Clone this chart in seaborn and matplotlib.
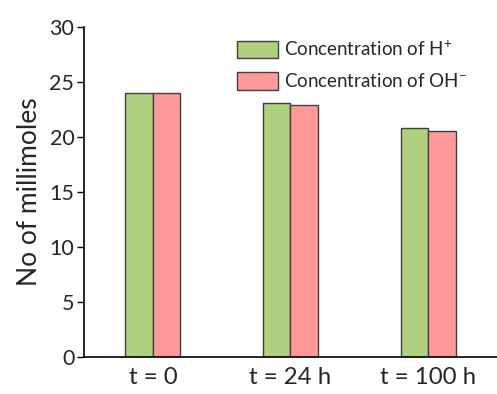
import matplotlib
matplotlib.use("Agg")
import matplotlib.pyplot as plt
import seaborn as sns
import pandas as pd

# Data
times = ["t = 0", "t = 24 h", "t = 100 h"]
h_conc = [24.0, 23.05, 20.8]
oh_conc = [24.0, 22.95, 20.5]
series_names = ["Concentration of H$^{+}$", "Concentration of OH$^{-}$"]
colors = ["#AFD07F", "#FF9999"]

df = pd.DataFrame({
    "time": times * 2,
    "value": h_conc + oh_conc,
    "series": [series_names[0]] * len(times) + [series_names[1]] * len(times),
})

sns.set_theme(style="white")
plt.rcParams["font.family"] = ["Lato", "DejaVu Sans"]
plt.rcParams["mathtext.fontset"] = "custom"
plt.rcParams["mathtext.rm"] = "Lato"
plt.rcParams["mathtext.it"] = "Lato:italic"

fig = plt.figure(figsize=(4.97, 3.94), dpi=100)
ax = fig.add_axes([0.169, 0.094, 0.831, 0.8376])

sns.barplot(data=df, x="time", y="value", hue="series", palette=colors,
            width=0.4, edgecolor="#404040", linewidth=1.0, ax=ax,
            saturation=1)

ax.set_xlim(-0.5, 2.5)
ax.set_ylim(0, 30)
ax.set_yticks(range(0, 31, 5))
ax.set_xlabel("")
ax.set_ylabel("No of millimoles", fontsize=19, labelpad=5)
ax.tick_params(axis="y", which="both", direction="out", length=5, width=1,
               color="black", labelsize=15.5, left=True, pad=2)
ax.tick_params(axis="x", length=0, labelsize=17.3, pad=7)
for side in ["top", "right"]:
    ax.spines[side].set_visible(False)
for side in ["left", "bottom"]:
    ax.spines[side].set_color("black")
    ax.spines[side].set_linewidth(1.2)

leg = ax.legend(loc="upper left", bbox_to_anchor=(0.477, 0.9),
                bbox_transform=fig.transFigure, frameon=False,
                fontsize=13.5, handlelength=2.2, handleheight=1.05,
                handletextpad=0.3, labelspacing=0.72, borderaxespad=0,
                borderpad=0)

fig.savefig("out.png", dpi=100)
